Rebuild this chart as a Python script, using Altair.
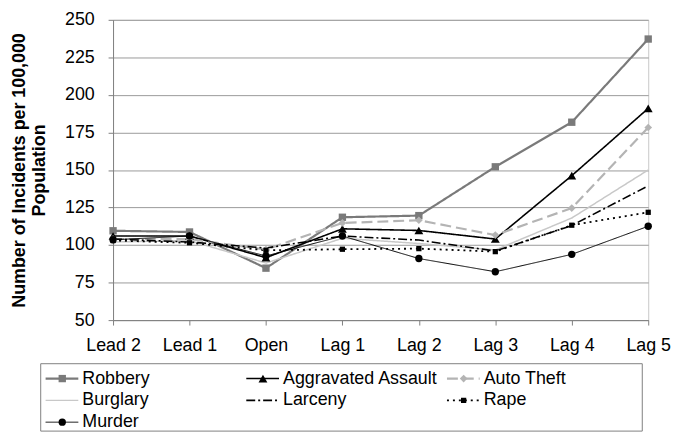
import altair as alt
import pandas as pd

periods = ["Lead 2", "Lead 1", "Open", "Lag 1", "Lag 2", "Lag 3", "Lag 4", "Lag 5"]

robbery = [109.5, 108.7, 84.6, 118.5, 119.6, 152.1, 181.8, 237.2]
agg_assault = [106.0, 106.0, 91.6, 110.8, 109.7, 104.0, 146.2, 191.0]
auto_theft = [104.0, 104.0, 97.0, 114.7, 116.5, 106.6, 124.6, 178.3]
burglary = [102.0, 103.0, 88.0, 104.5, 101.0, 96.7, 118.0, 150.0]
larceny = [104.0, 102.0, 98.0, 106.0, 103.3, 96.0, 113.0, 139.4]
rape = [103.0, 101.5, 96.5, 97.2, 97.6, 95.6, 113.2, 121.8]
murder = [103.5, 106.0, 92.7, 106.0, 91.0, 82.2, 93.8, 112.5]

series = ["Robbery", "Aggravated Assault", "Auto Theft", "Burglary", "Larceny", "Rape", "Murder"]
values = [robbery, agg_assault, auto_theft, burglary, larceny, rape, murder]
marker_series = ["Robbery", "Aggravated Assault", "Auto Theft", "Rape", "Murder"]

# styling
colors = ["#7a7a7a", "#000000", "#b4b4b4", "#c8c8c8", "#000000", "#000000", "#000000"]
dashes = [[1, 0], [1, 0], [11, 5], [1, 0], [9, 3, 2, 3], [2, 4], [1, 0]]
widths = [2.2, 1.6, 2.2, 1.5, 1.6, 1.8, 1.0]
shapes = ["square", "triangle-up", "diamond", "circle", "circle", "square", "circle"]
sizes = [55, 80, 60, 10, 10, 28, 55]

# legend layout (column / row of each entry)
legend_col = [0, 1, 2, 0, 1, 2, 0]
legend_row = [0, 0, 0, 1, 1, 1, 2]

rows = []
for s, vals in zip(series, values):
    for p, v in zip(periods, vals):
        rows.append({"series": s, "period": p, "value": v})
df = pd.DataFrame(rows)

font = "Liberation Sans"
PLOT_W = 540

color_enc = alt.Color("series:N", scale=alt.Scale(domain=series, range=colors), legend=None)
dash_enc = alt.StrokeDash("series:N", scale=alt.Scale(domain=series, range=dashes), legend=None)
width_enc = alt.StrokeWidth("series:N", scale=alt.Scale(type="ordinal", domain=series, range=widths), legend=None)
shape_enc = alt.Shape("series:N", scale=alt.Scale(domain=series, range=shapes), legend=None)
size_enc = alt.Size("series:N", scale=alt.Scale(type="ordinal", domain=series, range=sizes), legend=None)

base = alt.Chart(df).encode(
    x=alt.X(
        "period:N",
        sort=periods,
        scale=alt.Scale(type="point", padding=0),
        axis=alt.Axis(
            title=None, labelAngle=0, labelFontSize=18, labelColor="black",
            labelFont=font, domainColor="#808080", tickColor="#808080",
            tickSize=5, labelPadding=12, grid=False,
        ),
    ),
    y=alt.Y(
        "value:Q",
        scale=alt.Scale(domain=[50, 250], nice=False, zero=False),
        axis=alt.Axis(
            values=list(range(50, 251, 25)),
            title=["Number of Incidents per 100,000", "Population"],
            titleFontSize=18, titleFontWeight="bold", titleColor="black",
            titleFont=font, titlePadding=16, titleLineHeight=20,
            labelFontSize=18, labelColor="black", labelFont=font,
            labelPadding=14, tickSize=5, tickColor="#808080",
            domainColor="#808080", gridColor="#9a9a9a", gridWidth=1,
        ),
    ),
    color=color_enc,
)

lines = base.mark_line().encode(strokeDash=dash_enc, strokeWidth=width_enc)
points = base.mark_point(filled=True, opacity=1).encode(
    shape=shape_enc, size=size_enc
).transform_filter(alt.FieldOneOfPredicate(field="series", oneOf=marker_series))

main = alt.layer(lines, points).properties(
    width=PLOT_W, height=303, view=alt.ViewBackground(stroke="#c8c8c8")
)

# legend built from the series list (positioned relative to the plot's left edge)
leg_df = pd.DataFrame({"series": series, "col": legend_col, "row": legend_row})
lb = alt.Chart(leg_df).transform_calculate(
    x1="datum.col - 0.183", x2="datum.col - 0.02", xm="datum.col - 0.1"
)
xs = alt.Scale(domain=[0, 2], range=[-31, 374])
ys = alt.Scale(domain=[0, 2], range=[15, 59])

frame = alt.Chart(pd.DataFrame({"f": [0]})).mark_rect(
    filled=False, stroke="#808080", strokeWidth=1
).encode(
    x=alt.value(-73), x2=alt.value(534), y=alt.value(0), y2=alt.value(68)
)
sym_line = lb.mark_rule().encode(
    x=alt.X("x1:Q", scale=xs, axis=None), x2="x2:Q",
    y=alt.Y("row:Q", scale=ys, axis=None),
    color=color_enc, strokeDash=dash_enc, strokeWidth=width_enc,
)
sym_pt = lb.mark_point(filled=True, opacity=1).encode(
    x=alt.X("xm:Q", scale=xs, axis=None),
    y=alt.Y("row:Q", scale=ys, axis=None),
    color=color_enc, shape=shape_enc, size=size_enc,
).transform_filter(alt.FieldOneOfPredicate(field="series", oneOf=marker_series))
sym_txt = lb.mark_text(align="left", baseline="middle", fontSize=18, font=font, color="black").encode(
    x=alt.X("col:Q", scale=xs, axis=None),
    y=alt.Y("row:Q", scale=ys, axis=None),
    text="series:N",
)
legend = alt.layer(frame, sym_line, sym_pt, sym_txt).properties(
    width=PLOT_W, height=68, view=alt.ViewBackground(strokeOpacity=0)
)

chart = alt.vconcat(main, legend, spacing=7).resolve_scale(
    x="independent", y="independent"
).properties(
    padding={"left": 2, "top": 0, "right": 0, "bottom": 0}
).configure(font=font)

chart.save("out.html", embed_options={"renderer": "svg", "actions": False})
